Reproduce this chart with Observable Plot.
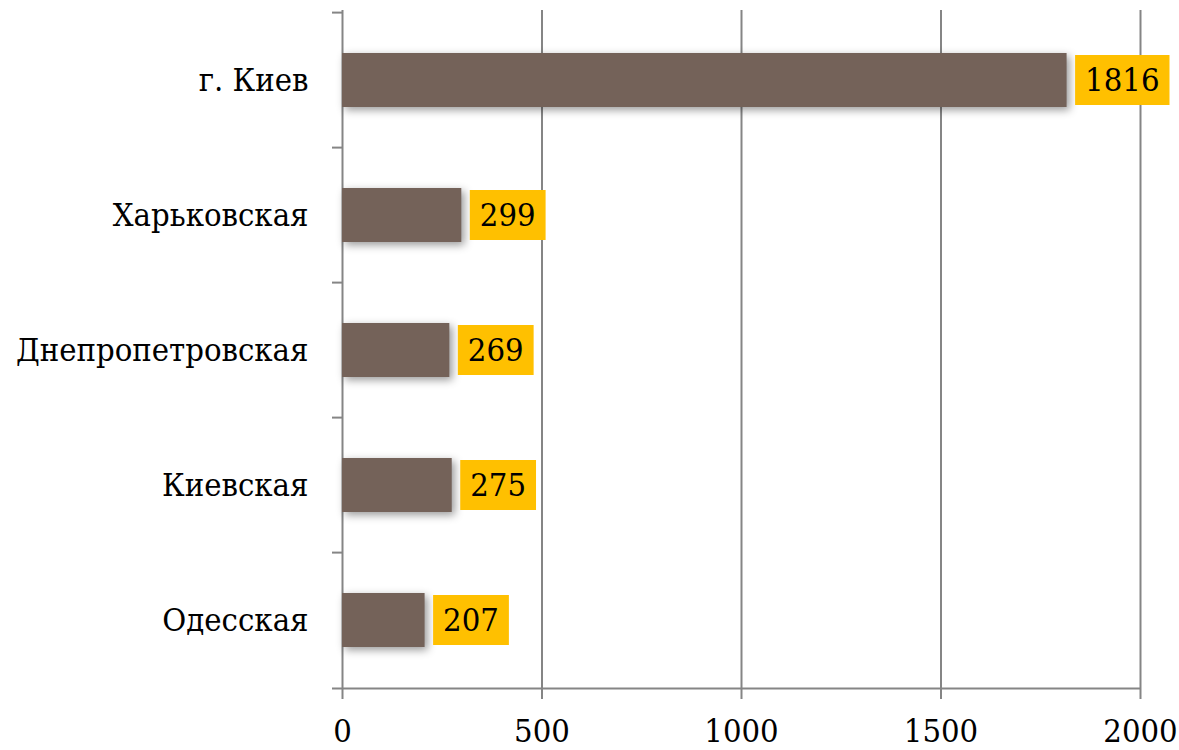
<!DOCTYPE html>
<html><head><meta charset="utf-8">
<script src="https://cdn.jsdelivr.net/npm/d3@7"></script>
<script src="https://cdn.jsdelivr.net/npm/@observablehq/plot@0.6"></script>
<style>html,body{margin:0;padding:0;background:#fff} svg text{font-stretch:condensed}</style>
</head><body><div id="chart"></div>
<script>
const regions = ["г. Киев", "Харьковская", "Днепропетровская", "Киевская", "Одесская"];
const values = [1816, 299, 269, 275, 207];
const xTicks = [0, 500, 1000, 1500, 2000];
const xMax = 2000;

const data = regions.map((r, i) => ({region: r, value: values[i]}));

const W = 1179, H = 750, mL = 342, mR = 39, mT = 10, mB = 61;
const step = (H - mT - mB) / regions.length;
const font = "DejaVu Serif Condensed, DejaVu Serif";
const fs = 32.5;
const gray = "#858585";
const tickLen = 10;
const pxPerUnit = (W - mL - mR) / xMax;

const chart = Plot.plot({
  width: W, height: H,
  marginLeft: mL, marginRight: mR, marginTop: mT, marginBottom: mB,
  style: {fontFamily: font, fontSize: fs + "px", background: "white", color: "black", overflow: "visible"},
  x: {domain: [0, xMax], ticks: xTicks, label: null},
  y: {domain: regions, paddingInner: 0.6, paddingOuter: 0.3, label: null},
  marks: [
    Plot.gridX(xTicks, {stroke: gray, strokeOpacity: 1, strokeWidth: 2}),
    Plot.ruleY(regions, {y: d => d, x1: -tickLen / pxPerUnit, x2: 0, dy: -step / 2, stroke: gray, strokeWidth: 2}),
    Plot.ruleY([regions[regions.length - 1]], {y: d => d, x1: -tickLen / pxPerUnit, x2: xMax, dy: step / 2, stroke: gray, strokeWidth: 2}),
    Plot.axisX(xTicks, {tickSize: tickLen, tickPadding: 19, tickFormat: d => String(d), stroke: gray, strokeWidth: 2, fill: "black", fontSize: fs, fontFamily: font, label: null}),
    Plot.axisY({tickSize: 0, tickPadding: 34, fill: "black", fontSize: fs, fontFamily: font, label: null}),
    Plot.barX(data, {y: "region", x: "value", fill: "#746259"}),
    Plot.text(data, {y: "region", x: "value", text: d => String(d.value), textAnchor: "start", dx: 18, fill: "black", fontSize: fs, fontFamily: font})
  ]
});
document.getElementById("chart").appendChild(chart);

const svg = d3.select(chart);
const bars = svg.selectAll('g[aria-label="bar"] rect').style("filter", "drop-shadow(3px 3px 4px rgba(0,0,0,0.4))").nodes();
const textG = svg.select('g[aria-label="text"]').node();
const texts = d3.select(textG).selectAll("text").nodes();
const sb = chart.getBoundingClientRect();
const boxG = d3.create("svg:g").attr("aria-label", "label boxes");
texts.forEach((t, i) => {
  const r = t.getBoundingClientRect();
  const b = bars[i];
  const cy = +b.getAttribute("y") + (+b.getAttribute("height")) / 2;
  boxG.append("rect")
    .attr("x", r.left - sb.left - 10)
    .attr("width", r.width + 20)
    .attr("y", cy - 25)
    .attr("height", 50)
    .attr("fill", "#FFC000");
});
textG.parentNode.insertBefore(boxG.node(), textG);
</script>
</body></html>
